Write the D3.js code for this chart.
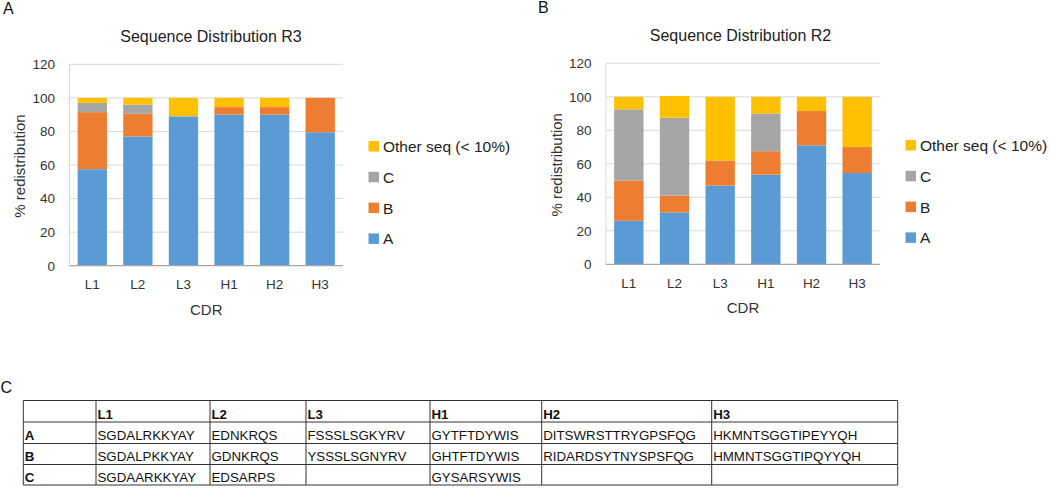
<!DOCTYPE html>
<html>
<head>
<meta charset="utf-8">
<script src="https://cdn.jsdelivr.net/npm/d3@7"></script>
<style>
  html, body { margin: 0; padding: 0; background: #fff; }
  svg { display: block; font-family: "Liberation Sans", Arial, sans-serif; }
</style>
</head>
<body>
<svg id="chart" width="1050" height="488"></svg>
<script>
// ---- Data ----
const categories = ["L1", "L2", "L3", "H1", "H2", "H3"];
const seriesNames = ["A", "B", "C", "Other seq (< 10%)"];
const seriesColors = ["#5B9BD5", "#ED7D31", "#A5A5A5", "#FFC000"];
const yTicks = [0, 20, 40, 60, 80, 100, 120];

// Panel A: Sequence Distribution R3
const r3A = [57.5, 77, 89, 90, 90, 79.5];
const r3B = [34, 13.5, 0, 4.5, 4.5, 20.5];
const r3C = [5.5, 5.5, 0, 0, 0, 0];
const r3Other = [3, 4, 11, 5.5, 5.5, 0];

// Panel B: Sequence Distribution R2
const r2A = [26, 31, 47, 53.5, 71, 54.5];
const r2B = [24, 10, 15, 14, 20.5, 15.5];
const r2C = [42.5, 46.5, 0, 22.5, 0, 0];
const r2Other = [7.5, 13, 38, 10, 8.5, 30];

// Panel C: table
const tableHeader = ["", "L1", "L2", "L3", "H1", "H2", "H3"];
const rowA = ["A", "SGDALRKKYAY", "EDNKRQS", "FSSSLSGKYRV", "GYTFTDYWIS", "DITSWRSTTRYGPSFQG", "HKMNTSGGTIPEYYQH"];
const rowB = ["B", "SGDALPKKYAY", "GDNKRQS", "YSSSLSGNYRV", "GHTFTDYWIS", "RIDARDSYTNYSPSFQG", "HMMNTSGGTIPQYYQH"];
const rowC = ["C", "SGDAARKKYAY", "EDSARPS", "", "GYSARSYWIS", "", ""];

// ---- Drawing ----
const svg = d3.select("#chart");
svg.append("rect").attr("width", 1050).attr("height", 488).attr("fill", "#fff");

function drawPanel(cfg) {
  const { title, seriesValues, x0, x1, yTop, yBottom, titleX, legendX, legendY } = cfg;
  const g = svg.append("g");
  const x = d3.scaleBand().domain(categories).range([x0, x1])
    .paddingInner(0.357).paddingOuter(0.1785);
  const y = d3.scaleLinear().domain([0, 120]).range([yBottom, yTop]);

  // gridlines
  g.selectAll("line.grid").data(yTicks.filter(t => t > 0)).join("line")
    .attr("x1", x0).attr("x2", x1)
    .attr("y1", d => y(d)).attr("y2", d => y(d))
    .attr("stroke", "#D9D9D9").attr("stroke-width", 1);
  // left vertical line
  g.append("line").attr("x1", x0).attr("x2", x0).attr("y1", y(120)).attr("y2", y(0))
    .attr("stroke", "#D9D9D9");

  // stacked data
  const rows = categories.map((c, i) => {
    const o = { cat: c };
    seriesNames.forEach((s, k) => o[s] = seriesValues[k][i]);
    return o;
  });
  const stack = d3.stack().keys(seriesNames)(rows);
  g.selectAll("g.series").data(stack).join("g")
    .attr("fill", (d, i) => seriesColors[i])
    .selectAll("rect").data(d => d.filter(v => v[1] - v[0] > 0)).join("rect")
    .attr("x", d => x(d.data.cat))
    .attr("width", x.bandwidth())
    .attr("y", d => y(d[1]))
    .attr("height", d => y(d[0]) - y(d[1]));

  // bottom axis line
  g.append("line").attr("x1", x0).attr("x2", x1).attr("y1", y(0)).attr("y2", y(0))
    .attr("stroke", "#A6A6A6").attr("stroke-width", 1.2);

  // y tick labels via axis
  const yAxis = d3.axisLeft(y).tickValues(yTicks).tickSize(0).tickPadding(14.5);
  const ya = g.append("g").attr("transform", `translate(${x0},0)`).call(yAxis);
  ya.select(".domain").remove();
  ya.selectAll("text").attr("font-size", 13.5).attr("fill", "#333")
    .attr("font-family", "Liberation Sans, Arial, sans-serif");

  // x tick labels via axis
  const xAxis = d3.axisBottom(x).tickSize(0).tickPadding(14);
  const xa = g.append("g").attr("transform", `translate(0,${y(0)})`).call(xAxis);
  xa.select(".domain").remove();
  xa.selectAll("text").attr("font-size", 13.5).attr("fill", "#333")
    .attr("font-family", "Liberation Sans, Arial, sans-serif");

  // title
  g.append("text").attr("x", titleX).attr("y", yTop - 22.5)
    .attr("text-anchor", "middle").attr("font-size", 16).attr("fill", "#222")
    .text(title);

  // axis titles
  g.append("text").attr("transform", `translate(${x0 - 50},${(y(0) + y(120)) / 2 + 1}) rotate(-90)`)
    .attr("text-anchor", "middle").attr("dominant-baseline", "central")
    .attr("font-size", 15).attr("fill", "#333").text("% redistribution");
  g.append("text").attr("x", (x0 + x1) / 2).attr("y", y(0) + 49)
    .attr("text-anchor", "middle").attr("font-size", 15).attr("fill", "#333").text("CDR");

  // legend (reverse order)
  const legendItems = seriesNames.map((s, i) => ({ s, c: seriesColors[i] })).reverse();
  const lg = g.append("g");
  legendItems.forEach((d, i) => {
    const cy = legendY + i * 30.8;
    lg.append("rect").attr("x", legendX).attr("y", cy - 5).attr("width", 10.5).attr("height", 10.5).attr("fill", d.c);
    lg.append("text").attr("x", legendX + 14.5).attr("y", cy + 6)
      .attr("font-size", 15.5).attr("fill", "#222").text(d.s);
  });
}

drawPanel({
  title: "Sequence Distribution R3",
  seriesValues: [r3A, r3B, r3C, r3Other],
  x0: 69.5, x1: 343, yTop: 64.3, yBottom: 265.7, titleX: 211,
  legendX: 368.5, legendY: 146
});
drawPanel({
  title: "Sequence Distribution R2",
  seriesValues: [r2A, r2B, r2C, r2Other],
  x0: 606, x1: 880, yTop: 63.3, yBottom: 264.3, titleX: 740.5,
  legendX: 905.5, legendY: 145
});

// panel letters
svg.append("text").attr("x", 3).attr("y", 14).attr("font-size", 16).attr("fill", "#111").text("A");
svg.append("text").attr("x", 538).attr("y", 13).attr("font-size", 16).attr("fill", "#111").text("B");
svg.append("text").attr("x", 0.5).attr("y", 393).attr("font-size", 16).attr("fill", "#111").text("C");

// table
const colEdges = [23.3, 96, 210, 306, 430, 541.7, 711.7, 897.7];
const rowEdges = [400.5, 422, 443.5, 464.5, 485];
const tableRows = [tableHeader, rowA, rowB, rowC];
const tg = svg.append("g");
tableRows.forEach((row, r) => {
  row.forEach((txt, c) => {
    if (!txt) return;
    tg.append("text")
      .attr("x", colEdges[c] + 1.5)
      .attr("y", rowEdges[r + 1] - 3.5)
      .attr("font-size", 13.3)
      .attr("font-weight", (r === 0 || c === 0) ? "bold" : "normal")
      .attr("fill", "#111")
      .text(txt);
  });
});
rowEdges.forEach(yv => {
  tg.append("line").attr("x1", colEdges[0]).attr("x2", colEdges[colEdges.length - 1])
    .attr("y1", yv).attr("y2", yv).attr("stroke", "#333").attr("stroke-width", 1);
});
colEdges.forEach(xv => {
  tg.append("line").attr("x1", xv).attr("x2", xv)
    .attr("y1", rowEdges[0]).attr("y2", rowEdges[rowEdges.length - 1]).attr("stroke", "#333").attr("stroke-width", 1);
});
</script>
</body>
</html>
